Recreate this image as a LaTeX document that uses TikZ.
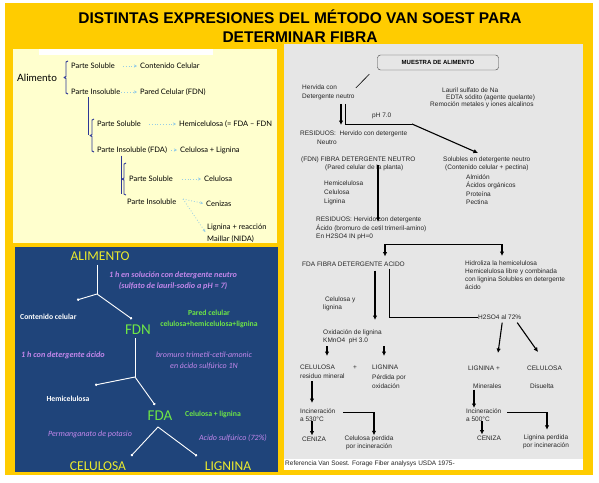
\documentclass[tikz,border=0pt]{standalone}
\usepackage{fontspec}
\setmainfont{Liberation Sans}
\newfontfamily\gillfont{Lato}
\newfontfamily\califont{Carlito}
\usetikzlibrary{arrows.meta,positioning,calc}
\definecolor{FrameGold}{RGB}{255,204,0}
\definecolor{PanelCream}{RGB}{255,255,206}
\definecolor{PanelNavy}{RGB}{31,68,122}
\definecolor{PanelGray}{RGB}{230,230,230}
\definecolor{BraceBlue}{RGB}{45,55,150}
\definecolor{ArrowCyan}{RGB}{150,205,230}
\definecolor{WordYellow}{RGB}{235,235,45}
\definecolor{LabelGreen}{RGB}{110,230,70}
\definecolor{LabelViolet}{RGB}{195,135,235}
% x, top, bottom
\newcommand{\fibrace}[3]{%
  \draw[bracestyle] ({#1+2},#2) -- (#1,{#2+1}) -- (#1,{(#2+#3)/2-1}) -- ({#1-2},{(#2+#3)/2})
    -- (#1,{(#2+#3)/2+1}) -- (#1,{#3-1}) -- ({#1+2},#3);}

\begin{document}
\begin{tikzpicture}[x=1pt,y=-1pt,>=Latex,
    rtext/.style={font=\fontsize{6.5}{8.5}\selectfont,inner sep=0pt,anchor=west,align=left,text=black!85},
    ctext/.style={font=\gillfont\fontsize{7.5}{9}\selectfont,inner sep=0pt,anchor=west},
    btext/.style={font=\califont\bfseries\fontsize{7.7}{11}\selectfont,inner sep=0pt,align=center},
    vtext/.style={font=\califont\itshape\fontsize{8}{11}\selectfont,text=LabelViolet,inner sep=0pt,align=center},
    vbold/.style={vtext,font=\califont\bfseries\itshape\fontsize{8.2}{11}\selectfont},
    bigword/.style={font=\califont\fontsize{13.5}{15}\selectfont,inner sep=0pt},
    fatarrow/.style={-{Latex[length=4.5pt,width=4.5pt]},line width=1.1pt},
    thinline/.style={line width=0.6pt},
    dotarrow/.style={ArrowCyan,dotted,line width=0.8pt,-{Stealth[length=3pt,width=3pt]},shorten >=3pt},
    treeline/.style={white,line width=0.9pt},
    treetip/.style={white,line width=0.9pt,{Circle[length=2.4pt]}-{Circle[length=2.4pt]}},
    bracestyle/.style={BraceBlue,line width=0.9pt,line join=round}]
  \useasboundingbox (0,0) rectangle (599,482);
  \fill[white] (0,0) rectangle (599,482);
  \fill[FrameGold] (5,3) rectangle (593,475);
  \fill[PanelCream] (13,49) rectangle (277,243);
  \fill[white] (39,49) rectangle (213,55);
  \fill[PanelNavy] (15,247) rectangle (278,472);
  \fill[PanelGray] (284,44) rectangle (583,459);
  \fill[white] (284,459) rectangle (583,470);

  \node[font=\bfseries\fontsize{15.5}{19}\selectfont,align=center] (title) at (300,26.5)
    {DISTINTAS EXPRESIONES DEL MÉTODO VAN SOEST PARA\\DETERMINAR FIBRA};

  % cuadro crema
  \node[ctext,font=\gillfont\fontsize{10}{12}\selectfont] (alim) at (17,78) {Alimento};
  \fibrace{66}{61}{94}
  \node[ctext] (ps1) at (71,66) {Parte Soluble};
  \node[ctext] (cc) at (140,66) {Contenido Celular};
  \node[ctext] (pi1) at (71,92) {Parte Insoluble};
  \node[ctext] (pc) at (140,92) {Pared Celular (FDN)};
  \draw[dotarrow,shorten <=8pt] (ps1) -- (cc);
  \draw[dotarrow,shorten <=1pt] (pi1) -- (pc);
  \draw[bracestyle] ([xshift=17pt,yshift=-2pt]pi1.south west) -- ++(0,38);
  \fibrace{92}{119}{152}
  \node[ctext] (ps2) at (97,124) {Parte Soluble};
  \node[ctext] (hem) at (179,124) {Hemicelulosa (= FDA – FDN};
  \node[ctext] (pi2) at (97,150) {Parte Insoluble (FDA)};
  \node[ctext] (cl) at (180,150) {Celulosa + Lignina};
  \draw[dotarrow,shorten <=8pt] (ps2) -- (hem);
  \draw[dotarrow,shorten <=4pt] (pi2) -- (cl);
  \draw[bracestyle] ([xshift=24pt,yshift=-2pt]pi2.south west) -- ++(0,38);
  \fibrace{124}{163}{195}
  \node[ctext] (ps3) at (129,179) {Parte Soluble};
  \node[ctext] (cel) at (204,179) {Celulosa};
  \node[ctext] (pi3) at (127,202) {Parte Insoluble};
  \node[ctext] (cen) at (206,204) {Cenizas};
  \node[ctext,anchor=north west,align=left,font=\gillfont\fontsize{7.5}{12}\selectfont] (lig) at (207,224) {Lignina + reacción\\Maillar (NIDA)};
  \draw[dotarrow,shorten <=9pt] (ps3) -- (cel);
  \coordinate (pq) at (183,199);
  \draw[dotarrow] (pq) -- (cen.west);
  \draw[dotarrow] (pq) -- ([yshift=-1pt]lig.west);

  % cuadro azul
  \node[bigword,text=WordYellow] (alimB) at (100,256) {ALIMENTO};
  \node[vbold] (neut) at (173,280.5)
    {1 h en solución con detergente neutro\\(sulfato de lauril-sodio a pH = 7)};
  \node[btext,text=white,anchor=west] (ccB) at (20,317) {Contenido celular};
  \node[btext,text=LabelGreen] (pared) at (209,318.5) {Pared celular\\celulosa+hemicelulosa+lignina};
  \node[bigword,font=\califont\fontsize{15}{17}\selectfont,text=LabelGreen] (fdnB) at (138,330) {FDN};
  \node[vbold] (acido) at (63,355) {1 h con detergente ácido};
  \node[vtext] (brom) at (204,360.5) {bromuro trimetil-cetil-amonic\\en ácido sulfúrico 1N};
  \node[btext,text=white] (hemB) at (68,399) {Hemicelulosa};
  \node[bigword,font=\califont\fontsize{15}{17}\selectfont,text=LabelGreen] (fdaB) at (160,416) {FDA};
  \node[btext,text=LabelGreen] (clB) at (213,414) {Celulosa + lignina};
  \node[vtext] (perm) at (90,434) {Permanganato de potasio};
  \node[vtext] (sulf) at (233,438) {Acido sulfúrico (72\%)};
  \node[bigword,text=WordYellow] (celB) at (98,466) {CELULOSA};
  \node[bigword,text=WordYellow] (ligB) at (228,466) {LIGNINA};
  \coordinate (j1) at (97,294);
  \coordinate (e1) at (77,300);
  \coordinate (e2) at (132,319);
  \draw[treeline,shorten <=4pt] (alimB.south -| j1) -- (j1);
  \draw[treetip] (e1) -- (j1) -- (e2);
  \coordinate (j2) at (135,377);
  \coordinate (e3) at (95,385);
  \coordinate (e4) at (155,405);
  \draw[treeline,shorten <=3pt] (fdnB.south -| j2) -- (j2);
  \draw[treetip] (e3) -- (j2) -- (e4);
  \coordinate (j3) at (158,427);
  \coordinate (e5) at (131,456);
  \coordinate (e6) at (197,456);
  \draw[treetip] (e5) -- (j3) -- (e6);

  % cuadro gris
  \node[draw=black!75,fill=PanelGray,rounded corners=3pt,minimum width=121pt,minimum height=15pt,
    inner sep=0pt,font=\bfseries\fontsize{6}{7}\selectfont] (muestra) at (438,62.5) {MUESTRA DE ALIMENTO};
  \node[rtext,anchor=north west] (hervida) at (302,85) {Hervida con\\Detergente neutro};
  \node[rtext] (lau1) at (442,90) {Lauril sulfato de Na};
  \node[rtext] (lau2) at (446,97.5) {EDTA sódito (agente quelante)};
  \node[rtext] (lau3) at (430,105) {Remoción metales y iones alcalinos};
  \node[rtext] (ph7) at (372,116) {pH 7.0};
  \node[rtext] (res1) at (300,134) {RESIDUOS:\ \ Hervido con detergente};
  \node[rtext] (res1b) at (317,142) {Neutro};
  \node[rtext] (fdn) at (301,160) {(FDN) FIBRA DETERGENTE NEUTRO};
  \node[rtext] (fdnb) at (325,168) {(Pared celular de la planta)};
  \node[rtext] (sol) at (443,160) {Solubles en detergente neutro};
  \node[rtext] (solb) at (445,168) {(Contenido celular + pectina)};
  \node[rtext,anchor=north west,font=\fontsize{6.5}{8.4}\selectfont] (solc) at (466,174.5)
    {Almidón\\Ácidos orgánicos\\Proteína\\Pectina};
  \node[rtext,anchor=north west,font=\fontsize{6.5}{9}\selectfont] (hcl) at (324,181) {Hemicelulosa\\Celulosa\\Lignina};
  \node[rtext,anchor=north west] (res2) at (316,217)
    {RESIDUOS: Hervido con detergente\\Ácido (bromuro de cetil trimeril-amino)\\En H2SO4 IN pH=0};
  \node[rtext] (fda) at (302,264) {FDA FIBRA DETERGENTE ACIDO};
  \node[rtext,anchor=north west,font=\fontsize{6.5}{8}\selectfont] (hidro) at (465,261)
    {Hidroliza la hemicelulosa\\Hemicelulosa libre y combinada\\con lignina Solubles en detergente\\ácido};
  \node[rtext,anchor=north west,font=\fontsize{6.5}{8}\selectfont] (cyl) at (323,297) {\ Celulosa y\\lignina};
  \node[rtext] (h2so4) at (478,317) {H2SO4 al 72\%};
  \node[rtext,anchor=north west,font=\fontsize{6.5}{8}\selectfont] (oxid) at (323,330) {Oxidación de lignina\\KMnO4\ \ pH 3.0};
  \node[rtext,anchor=north west,font=\fontsize{6.5}{9}\selectfont] (celA) at (300,365) {CELULOSA\\residuo mineral};
  \node[rtext] (plus) at (353,368) {+};
  \node[rtext,anchor=north west,font=\fontsize{6.5}{9.5}\selectfont] (ligA) at (372,365) {LIGNINA\\Pérdida por\\oxidación};
  \node[rtext] (ligC) at (468,368) {LIGNINA +};
  \node[rtext] (celC) at (527,368) {CELULOSA};
  \node[rtext] (miner) at (473,386) {Minerales};
  \node[rtext] (disu) at (530,386) {Disuelta};
  \node[rtext,anchor=north west,font=\fontsize{6.5}{8}\selectfont] (inc1) at (300,409) {Incineración\\a 530°C};
  \node[rtext,anchor=north west,font=\fontsize{6.5}{8}\selectfont] (inc2) at (466,409) {Incineración\\a 500°C};
  \node[rtext] (cen1) at (302,439) {CENIZA};
  \node[rtext,anchor=center,align=center,font=\fontsize{6.5}{8}\selectfont] (celp) at (369,442.5) {Celulosa perdida\\por incineración};
  \node[rtext] (cen2) at (477,438) {CENIZA};
  \node[rtext,anchor=center,align=center,font=\fontsize{6.5}{8}\selectfont] (ligp) at (546,442) {Lignina perdida\\por incineración};
  \node[rtext] (ref) at (285,464) {Referencia Van Soest. Forage Fiber analysys USDA 1975-};

  \draw[thinline] ([shift={(-8pt,-4pt)}]muestra.south west) -- ([shift={(1pt,-3pt)}]hervida.north east);
  \coordinate (a1) at (341,125);
  \draw[fatarrow,shorten <=4pt] (hervida.south -| a1) -- (a1);
  \coordinate (p1) at (345,124);
  \coordinate (p2) at (412,124);
  \coordinate (p3) at (478,153);
  \draw[thinline,shorten <=4pt] (hervida.south -| p1) -- (p1) -- (p2);
  \draw[fatarrow] (p2) -- (p3);
  \coordinate (a3) at (378,222);
  \draw[fatarrow] (fdnb.north -| a3) -- (a3);
  \coordinate (k1) at (385,244);
  \coordinate (k2) at (502,244);
  \draw[thinline] (k1) -- (k2);
  \draw[fatarrow] (k1) -- ([yshift=5pt]fda.north -| k1);
  \draw[fatarrow] (k2) -- ([yshift=5pt]hidro.north -| k2);
  \coordinate (a6) at (375,320);
  \draw[fatarrow,shorten <=4pt] (fda.south -| a6) -- (a6);
  \coordinate (q1) at (389,317);
  \draw[thinline,shorten <=2pt] (fda.south -| q1) -- (q1) -- (h2so4.west);
  \coordinate (r1) at (498,353);
  \coordinate (r2) at (538,352);
  \draw[fatarrow] ([shift={(2.5pt,-3pt)}]h2so4.south) -- (r1);
  \draw[fatarrow] ([shift={(17.5pt,-3pt)}]h2so4.south) -- (r2);
  \coordinate (o1) at (327,356);
  \coordinate (o2) at (384,356);
  \draw[fatarrow,shorten <=1.5pt] (oxid.south -| o1) -- (o1);
  \draw[fatarrow,shorten <=1.5pt] (oxid.south -| o2) -- (o2);
  \coordinate (c1) at (312,403);
  \draw[fatarrow,shorten <=2pt] (celA.south -| c1) -- (c1);
  \coordinate (h1) at (343,412);
  \coordinate (i1) at (374,412);
  \draw[thinline] (h1) -- (i1);
  \draw[fatarrow] (i1) -- (celp.north -| i1);
  \coordinate (s1) at (312,421);
  \draw[fatarrow,shorten >=1pt] (s1) -- (cen1.north -| s1);
  \coordinate (m1) at (474,408);
  \draw[fatarrow,shorten <=1pt] (miner.south -| m1) -- (m1);
  \coordinate (h2) at (507,412);
  \coordinate (i3) at (547,412);
  \draw[thinline] (h2) -- (i3);
  \draw[fatarrow,shorten >=5pt] (i3) -- (ligp.north -| i3);
  \coordinate (s2) at (482,421);
  \draw[fatarrow,shorten >=1pt] (s2) -- (cen2.north -| s2);
\end{tikzpicture}
\end{document}
